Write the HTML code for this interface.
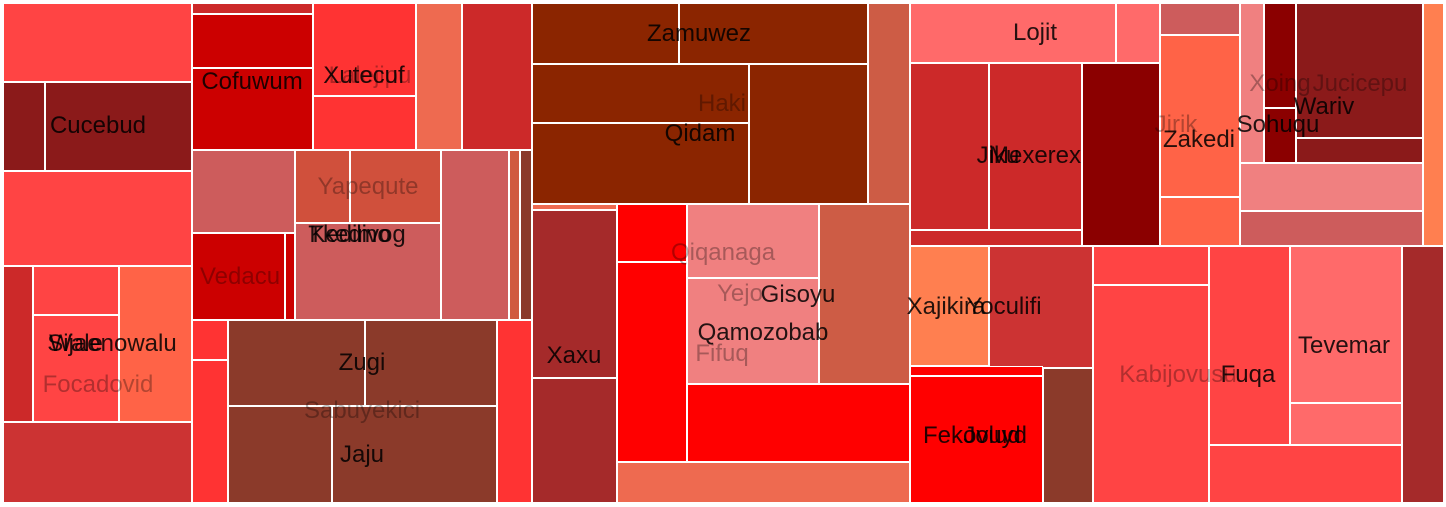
<!DOCTYPE html>
<html><head><meta charset="utf-8"><style>
body{margin:0;width:1446px;height:507px;background:#fff;position:relative;overflow:hidden;font-family:"Liberation Sans",sans-serif}
.c{position:absolute;box-sizing:border-box;border:1px solid #fff}
.l{position:absolute;transform:translate(-50%,-50%);font-size:24px;color:rgba(0,0,0,0.85);white-space:nowrap}
.d{color:rgba(0,0,0,0.3)}
</style></head><body>
<div class="c" style="left:3px;top:3px;width:189px;height:79px;background:#ff4444"></div>
<div class="c" style="left:3px;top:82px;width:42px;height:89px;background:#8b1a1a"></div>
<div class="c" style="left:45px;top:82px;width:147px;height:89px;background:#8b1a1a"></div>
<div class="c" style="left:3px;top:171px;width:189px;height:95px;background:#ff4444"></div>
<div class="c" style="left:3px;top:266px;width:30px;height:156px;background:#cc2929"></div>
<div class="c" style="left:33px;top:266px;width:86px;height:49px;background:#ff4444"></div>
<div class="c" style="left:119px;top:266px;width:73px;height:156px;background:#ff6347"></div>
<div class="c" style="left:33px;top:315px;width:86px;height:107px;background:#ff4444"></div>
<div class="c" style="left:3px;top:422px;width:189px;height:81px;background:#cc3333"></div>

<div class="c" style="left:192px;top:3px;width:121px;height:11px;background:#cc2929"></div>
<div class="c" style="left:192px;top:14px;width:121px;height:54px;background:#cc0000"></div>
<div class="c" style="left:192px;top:68px;width:121px;height:82px;background:#cc0000"></div>
<div class="c" style="left:313px;top:3px;width:103px;height:93px;background:#ff3333"></div>
<div class="c" style="left:313px;top:96px;width:103px;height:54px;background:#ff3333"></div>
<div class="c" style="left:416px;top:3px;width:46px;height:147px;background:#ee6a50"></div>
<div class="c" style="left:462px;top:3px;width:70px;height:147px;background:#cc2929"></div>
<div class="c" style="left:192px;top:150px;width:103px;height:83px;background:#cd5c5c"></div>
<div class="c" style="left:192px;top:233px;width:93px;height:87px;background:#cc0000"></div>
<div class="c" style="left:285px;top:233px;width:10px;height:87px;background:#cc0000"></div>
<div class="c" style="left:295px;top:150px;width:55px;height:73px;background:#d0503c"></div>
<div class="c" style="left:350px;top:150px;width:91px;height:73px;background:#d0503c"></div>
<div class="c" style="left:295px;top:223px;width:146px;height:97px;background:#cd5c5c"></div>
<div class="c" style="left:441px;top:150px;width:68px;height:170px;background:#cd5c5c"></div>
<div class="c" style="left:509px;top:150px;width:11px;height:170px;background:#d05a40"></div>
<div class="c" style="left:520px;top:150px;width:12px;height:170px;background:#8b3a2a"></div>
<div class="c" style="left:192px;top:320px;width:36px;height:40px;background:#ff3333"></div>
<div class="c" style="left:192px;top:360px;width:36px;height:143px;background:#ff3333"></div>
<div class="c" style="left:228px;top:320px;width:137px;height:86px;background:#8b3a2a"></div>
<div class="c" style="left:365px;top:320px;width:132px;height:86px;background:#8b3a2a"></div>
<div class="c" style="left:228px;top:406px;width:104px;height:97px;background:#8b3a2a"></div>
<div class="c" style="left:332px;top:406px;width:165px;height:97px;background:#8b3a2a"></div>
<div class="c" style="left:497px;top:320px;width:35px;height:183px;background:#ff3333"></div>

<div class="c" style="left:532px;top:3px;width:147px;height:61px;background:#8b2500"></div>
<div class="c" style="left:679px;top:3px;width:189px;height:61px;background:#8b2500"></div>
<div class="c" style="left:868px;top:3px;width:42px;height:201px;background:#cd5c45"></div>
<div class="c" style="left:532px;top:64px;width:217px;height:59px;background:#8b2500"></div>
<div class="c" style="left:532px;top:123px;width:217px;height:81px;background:#8b2500"></div>
<div class="c" style="left:749px;top:64px;width:119px;height:140px;background:#8b2500"></div>
<div class="c" style="left:532px;top:204px;width:85px;height:6px;background:#ee6a50"></div>
<div class="c" style="left:532px;top:210px;width:85px;height:168px;background:#a52a2a"></div>
<div class="c" style="left:532px;top:378px;width:85px;height:125px;background:#a52a2a"></div>
<div class="c" style="left:617px;top:204px;width:70px;height:58px;background:#ff0000"></div>
<div class="c" style="left:617px;top:262px;width:70px;height:200px;background:#ff0000"></div>
<div class="c" style="left:687px;top:204px;width:132px;height:74px;background:#f08080"></div>
<div class="c" style="left:687px;top:278px;width:132px;height:106px;background:#f08080"></div>
<div class="c" style="left:819px;top:204px;width:91px;height:180px;background:#cd5c45"></div>
<div class="c" style="left:687px;top:384px;width:223px;height:78px;background:#ff0000"></div>
<div class="c" style="left:617px;top:462px;width:293px;height:41px;background:#ee6a50"></div>

<div class="c" style="left:910px;top:3px;width:206px;height:60px;background:#ff6a6a"></div>
<div class="c" style="left:1116px;top:3px;width:44px;height:60px;background:#ff6a6a"></div>
<div class="c" style="left:910px;top:63px;width:79px;height:167px;background:#cc2929"></div>
<div class="c" style="left:989px;top:63px;width:93px;height:167px;background:#cc2929"></div>
<div class="c" style="left:1082px;top:63px;width:78px;height:183px;background:#8b0000"></div>
<div class="c" style="left:910px;top:230px;width:172px;height:16px;background:#cc2929"></div>
<div class="c" style="left:910px;top:246px;width:79px;height:120px;background:#ff7f50"></div>
<div class="c" style="left:989px;top:246px;width:104px;height:122px;background:#cc3333"></div>
<div class="c" style="left:910px;top:366px;width:133px;height:10px;background:#ff0000"></div>
<div class="c" style="left:910px;top:376px;width:133px;height:127px;background:#ff0000"></div>
<div class="c" style="left:1043px;top:368px;width:50px;height:135px;background:#8b3a2a"></div>

<div class="c" style="left:1160px;top:3px;width:80px;height:32px;background:#cd5c5c"></div>
<div class="c" style="left:1160px;top:35px;width:80px;height:162px;background:#ff6347"></div>
<div class="c" style="left:1160px;top:197px;width:80px;height:49px;background:#ff6347"></div>
<div class="c" style="left:1240px;top:3px;width:24px;height:160px;background:#f08080"></div>
<div class="c" style="left:1264px;top:3px;width:32px;height:105px;background:#8b0000"></div>
<div class="c" style="left:1264px;top:108px;width:32px;height:55px;background:#8b0000"></div>
<div class="c" style="left:1296px;top:3px;width:127px;height:135px;background:#8b1a1a"></div>
<div class="c" style="left:1296px;top:138px;width:127px;height:25px;background:#8b1a1a"></div>
<div class="c" style="left:1240px;top:163px;width:183px;height:48px;background:#f08080"></div>
<div class="c" style="left:1240px;top:211px;width:183px;height:35px;background:#cd5c5c"></div>
<div class="c" style="left:1423px;top:3px;width:21px;height:243px;background:#ff7f50"></div>
<div class="c" style="left:1093px;top:246px;width:116px;height:39px;background:#ff4444"></div>
<div class="c" style="left:1093px;top:285px;width:116px;height:218px;background:#ff4444"></div>
<div class="c" style="left:1209px;top:246px;width:81px;height:199px;background:#ff4444"></div>
<div class="c" style="left:1290px;top:246px;width:112px;height:157px;background:#ff6a6a"></div>
<div class="c" style="left:1290px;top:403px;width:112px;height:42px;background:#ff6a6a"></div>
<div class="c" style="left:1209px;top:445px;width:193px;height:58px;background:#ff4444"></div>
<div class="c" style="left:1402px;top:246px;width:42px;height:257px;background:#a52a2a"></div>

<div class="l" style="left:98px;top:126px">Cucebud</div>
<div class="l" style="left:112px;top:344px">Sijaenowalu</div>
<div class="l" style="left:76px;top:344px">Wale</div>
<div class="l d" style="left:98px;top:385px">Focadovid</div>
<div class="l" style="left:252px;top:82px">Cofuwum</div>
<div class="l d" style="left:370px;top:76px">Lalejipu</div>
<div class="l" style="left:364px;top:76px">Xutecuf</div>
<div class="l d" style="left:368px;top:187px">Yapequte</div>
<div class="l d" style="left:240px;top:277px">Vedacu</div>
<div class="l" style="left:357px;top:235px">Tkedivog</div>
<div class="l" style="left:350px;top:235px">Kedimo</div>
<div class="l" style="left:362px;top:363px">Zugi</div>
<div class="l d" style="left:362px;top:411px">Sabuyekici</div>
<div class="l" style="left:362px;top:455px">Jaju</div>
<div class="l" style="left:699px;top:34px">Zamuwez</div>
<div class="l d" style="left:722px;top:104px">Haki</div>
<div class="l" style="left:700px;top:134px">Qidam</div>
<div class="l" style="left:574px;top:356px">Xaxu</div>
<div class="l d" style="left:723px;top:253px">Qiqanaga</div>
<div class="l d" style="left:740px;top:294px">Yejo</div>
<div class="l" style="left:798px;top:295px">Gisoyu</div>
<div class="l" style="left:763px;top:333px">Qamozobab</div>
<div class="l d" style="left:722px;top:354px">Fifuq</div>
<div class="l" style="left:1035px;top:33px">Lojit</div>
<div class="l" style="left:998px;top:156px">Jiku</div>
<div class="l" style="left:1035px;top:156px">Mexerex</div>
<div class="l" style="left:946px;top:307px">Xajikira</div>
<div class="l" style="left:1004px;top:307px">Yoculifi</div>
<div class="l" style="left:975px;top:436px">Fekovuyd</div>
<div class="l" style="left:992px;top:436px">Jolud</div>
<div class="l d" style="left:1176px;top:125px">Jirik</div>
<div class="l" style="left:1199px;top:140px">Zakedi</div>
<div class="l d" style="left:1280px;top:84px">Xoing</div>
<div class="l d" style="left:1360px;top:84px">Jucicepu</div>
<div class="l" style="left:1324px;top:107px">Wariv</div>
<div class="l" style="left:1278px;top:125px">Sohuqu</div>
<div class="l d" style="left:1178px;top:375px">Kabijovusu</div>
<div class="l" style="left:1248px;top:375px">Fuqa</div>
<div class="l" style="left:1344px;top:346px">Tevemar</div>
</body></html>
